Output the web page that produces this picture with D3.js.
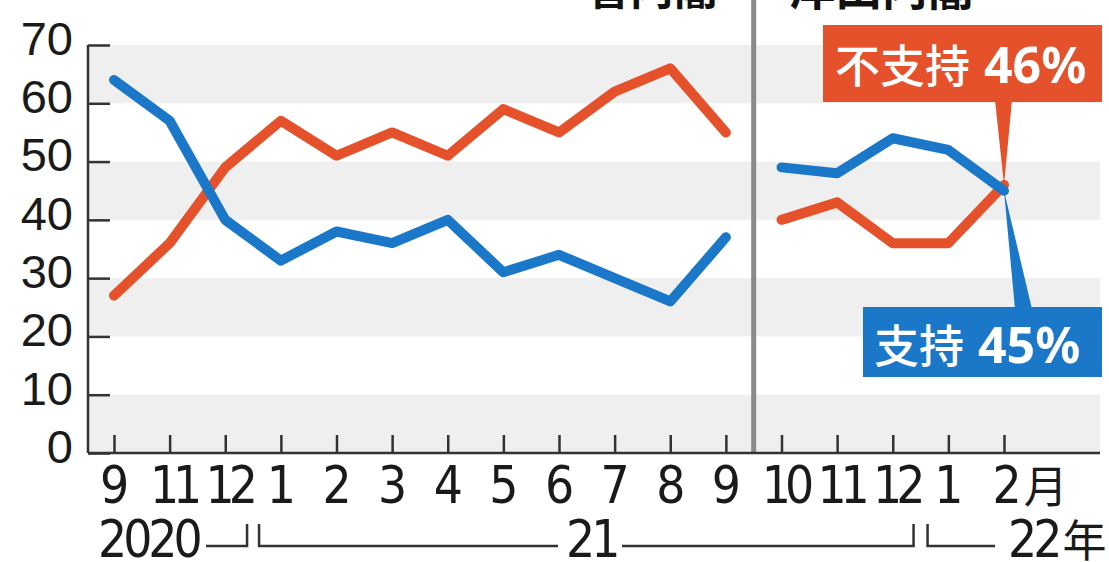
<!DOCTYPE html>
<html><head><meta charset="utf-8">
<script src="https://cdn.jsdelivr.net/npm/d3@7"></script>
<style>
html,body{margin:0;padding:0;background:#fff;}
svg{display:block;}
</style></head>
<body>
<svg id="chart" width="1109" height="562"></svg>
<script>
// ---- data ----
const monthLabels = ["9","11","12","1","2","3","4","5","6","7","8","9","10","11","12","1","2月"];
const approval    = [64,57,40,33,38,36,40,31,34,30,26,37,49,48,54,52,45];   // 支持
const disapproval = [27,36,49,57,51,55,51,59,55,62,66,55,40,43,36,36,46];   // 不支持
const cabinetBreak = 12; // first index of 岸田内閣
const cabinets = ["菅内閣","岸田内閣"];
const yTicks = [0,10,20,30,40,50,60,70];
const yearLabels = ["2020","21","22年"];

(function(){
const svg = d3.select("#chart");
const pL = 88, pR = 1100, pT = 45, pB = 453;

const x = d3.scaleLinear().domain([0, monthLabels.length-1]).range([114, 1004]);
const y = d3.scaleLinear().domain([0,70]).range([pB, pT]);

const red = "#e5512b", blue = "#1b78c8";
const numFont = "'Liberation Sans Narrow','DejaVu Sans Condensed',sans-serif";
const cjk = "'Noto Sans CJK JP',sans-serif";

// bands
for (let v = 0; v < 70; v += 20) {
  svg.append("rect").attr("x", pL).attr("width", pR-pL)
     .attr("y", y(v+10)).attr("height", y(v)-y(v+10)).attr("fill", "#efefef");
}

// cabinet separator
const sepX = (x(cabinetBreak-1)+x(cabinetBreak))/2;
svg.append("line").attr("x1", sepX).attr("x2", sepX).attr("y1", 0).attr("y2", pB)
   .attr("stroke", "#8a8a8a").attr("stroke-width", 5);

// cabinet titles at top (cut off by the frame, as in the source)
svg.append("text").attr("x", sepX-36).attr("y", 5).attr("text-anchor","end")
   .attr("font-family", cjk).attr("font-weight", 700).attr("font-size", 44).attr("fill","#111")
   .text(cabinets[0]);
svg.append("text").attr("x", sepX+36).attr("y", 5).attr("text-anchor","start")
   .attr("font-family", cjk).attr("font-weight", 700).attr("font-size", 46).attr("fill","#111")
   .text(cabinets[1]);

// axes
const yAxis = d3.axisLeft(y).tickValues(yTicks).tickSize(-22).tickPadding(15).tickFormat(d3.format("d"));
const gy = svg.append("g").attr("transform", `translate(${pL},0)`).call(yAxis);
gy.select(".domain").attr("stroke","#333").attr("stroke-width",2.5).attr("d", `M0,${pT}V${pB}`);
gy.selectAll(".tick line").attr("stroke","#333").attr("stroke-width",2.5);
gy.selectAll(".tick text").attr("font-family", "'Liberation Sans',sans-serif").attr("font-size", 47)
  .attr("fill","#1a1a1a").attr("dy","0.2em");

const xAxis = d3.axisBottom(x).tickValues(d3.range(monthLabels.length)).tickSize(-18).tickPadding(14)
  .tickFormat(i => monthLabels[i]);
const gx = svg.append("g").attr("transform", `translate(0,${pB})`).call(xAxis);
gx.select(".domain").attr("stroke","#333").attr("stroke-width",2.5).attr("d", `M${pL},0H${pR}`);
gx.selectAll(".tick line").attr("stroke","#333").attr("stroke-width",2.5);
gx.selectAll(".tick text").attr("font-family", numFont).attr("font-size", 51).attr("fill","#1a1a1a")
  .attr("letter-spacing", d => monthLabels[d].length > 1 ? -6 : 0)
  .attr("dx", d => monthLabels[d].length > 1 ? 3 : 0);
gx.selectAll(".tick text").filter((d,i)=>i===monthLabels.length-1).each(function(){
  const t = d3.select(this); const s = t.text();
  t.text("").attr("letter-spacing", 0).attr("text-anchor", "start").attr("dx", -12);
  t.append("tspan").text(s.slice(0,-1));
  t.append("tspan").attr("dx", 2).attr("font-family", cjk).attr("font-size", 44).text(s.slice(-1));
});

// lines
const line = d3.line().x(d=>x(d.i)).y(d=>y(d.v));
function seg(arr, a, b){ return arr.slice(a,b).map((v,k)=>({i:a+k, v})); }
[[disapproval, red],[approval, blue]].forEach(([arr,col])=>{
  [[0,cabinetBreak],[cabinetBreak,arr.length]].forEach(([a,b])=>{
    svg.append("path").attr("d", line(seg(arr,a,b))).attr("fill","none")
      .attr("stroke", col).attr("stroke-width", 10).attr("stroke-linejoin","round").attr("stroke-linecap","round");
  });
});

// callouts
const last = monthLabels.length-1;
const tipX = x(last);
const rTipY = y(disapproval[last]);
svg.append("path").attr("d", `M${tipX-9},100 L${tipX+8},100 L${tipX},${rTipY}Z`).attr("fill", red);
svg.append("rect").attr("x", 823).attr("y", 25).attr("width", 1102-823).attr("height", 77).attr("fill", red);
const rt = svg.append("text").attr("x", 835).attr("y", 83).attr("fill","#fff");
rt.append("tspan").attr("font-family", cjk).attr("font-size", 45).attr("font-weight", 500).text("不支持");
rt.append("tspan").attr("dx", 14).attr("font-family", "'Noto Sans',sans-serif").attr("font-weight", 700).attr("font-size", 50)
  .text(disapproval[last] + "%");
const bTipY = y(approval[last]);
svg.append("path").attr("d", `M${tipX},${bTipY} L${tipX+11},309 L${tipX+28},309Z`).attr("fill", blue);
svg.append("rect").attr("x", 863).attr("y", 307).attr("width", 1102-863).attr("height", 70).attr("fill", blue);
const bt = svg.append("text").attr("x", 874).attr("y", 363).attr("fill","#fff");
bt.append("tspan").attr("font-family", cjk).attr("font-size", 45).attr("font-weight", 500).text("支持");
bt.append("tspan").attr("dx", 14).attr("font-family", "'Noto Sans',sans-serif").attr("font-weight", 700).attr("font-size", 50)
  .text(approval[last] + "%");

// year brackets
const yb = 546, yt = 524;
const yearG = svg.append("g").attr("stroke","#333").attr("stroke-width",2.5).attr("fill","none");
const b1 = (x(2)+x(3))/2, b2 = (x(14)+x(15))/2;
yearG.append("path").attr("d", `M206,${yb}H${b1-6}V${yt}`);
yearG.append("path").attr("d", `M${b1+6},${yt}V${yb}H558`);
yearG.append("path").attr("d", `M622,${yb}H${b2-7}V${yt}`);
yearG.append("path").attr("d", `M${b2+7},${yt}V${yb}H995`);
const yearText = svg.append("g").attr("font-family", numFont).attr("font-size", 51).attr("fill","#1a1a1a");
yearText.append("text").attr("x", 98).attr("y", 557).attr("letter-spacing", -4).text(yearLabels[0]);
yearText.append("text").attr("x", 566).attr("y", 557).attr("letter-spacing", -4).text(yearLabels[1]);
const t22 = yearText.append("text").attr("x", 1008).attr("y", 557);
t22.append("tspan").attr("letter-spacing", -4).text(yearLabels[2].slice(0,-1));
t22.append("tspan").attr("dx", 4).attr("font-family", cjk).attr("font-size", 44).text(yearLabels[2].slice(-1));
})();
</script>
</body></html>
